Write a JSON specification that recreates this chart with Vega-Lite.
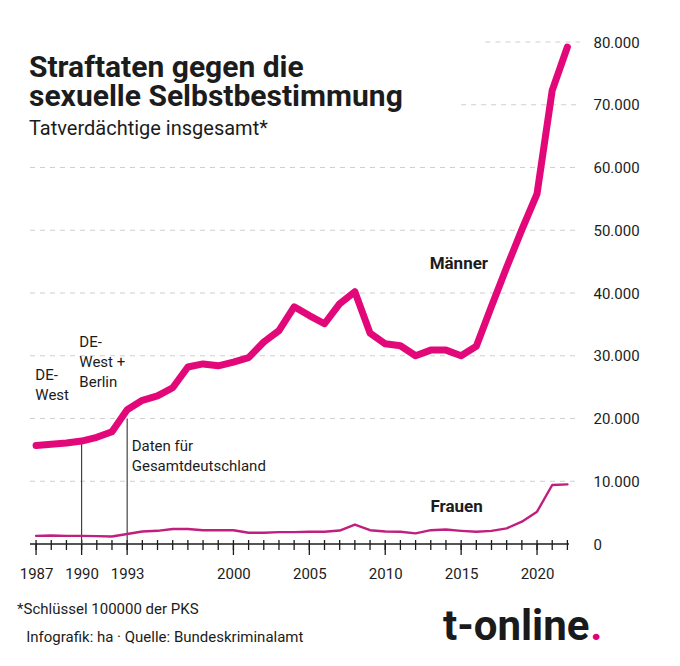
{
  "$schema": "https://vega.github.io/schema/vega-lite/v6.json",
  "width": 550,
  "height": 502,
  "autosize": "none",
  "padding": {"left": 30, "top": 42, "right": 100, "bottom": 122},
  "background": "white",
  "config": {
    "view": {"stroke": null},
    "font": "Roboto",
    "text": {"font": "Roboto", "color": "#1c1c1c"}
  },
  "title": {
    "text": ["Straftaten gegen die", "sexuelle Selbstbestimmung"],
    "subtitle": "Tatverdächtige insgesamt*",
    "anchor": "start",
    "frame": "group",
    "orient": "top",
    "offset": -104,
    "dx": -1,
    "font": "Roboto",
    "fontSize": 30,
    "fontWeight": "bold",
    "lineHeight": 29.5,
    "color": "#1c1c1c",
    "subtitleFont": "Roboto",
    "subtitleFontSize": 20,
    "subtitleColor": "#1c1c1c",
    "subtitlePadding": 7
  },
  "datasets": {
    "pks": [
      {"Jahr": 1987, "Geschlecht": "Männer", "Tatverdächtige": 15700},
      {"Jahr": 1988, "Geschlecht": "Männer", "Tatverdächtige": 15900},
      {"Jahr": 1989, "Geschlecht": "Männer", "Tatverdächtige": 16100},
      {"Jahr": 1990, "Geschlecht": "Männer", "Tatverdächtige": 16400},
      {"Jahr": 1991, "Geschlecht": "Männer", "Tatverdächtige": 17000},
      {"Jahr": 1992, "Geschlecht": "Männer", "Tatverdächtige": 17900},
      {"Jahr": 1993, "Geschlecht": "Männer", "Tatverdächtige": 21400},
      {"Jahr": 1994, "Geschlecht": "Männer", "Tatverdächtige": 22900},
      {"Jahr": 1995, "Geschlecht": "Männer", "Tatverdächtige": 23600},
      {"Jahr": 1996, "Geschlecht": "Männer", "Tatverdächtige": 24900},
      {"Jahr": 1997, "Geschlecht": "Männer", "Tatverdächtige": 28200},
      {"Jahr": 1998, "Geschlecht": "Männer", "Tatverdächtige": 28700},
      {"Jahr": 1999, "Geschlecht": "Männer", "Tatverdächtige": 28400},
      {"Jahr": 2000, "Geschlecht": "Männer", "Tatverdächtige": 29000},
      {"Jahr": 2001, "Geschlecht": "Männer", "Tatverdächtige": 29700},
      {"Jahr": 2002, "Geschlecht": "Männer", "Tatverdächtige": 32200},
      {"Jahr": 2003, "Geschlecht": "Männer", "Tatverdächtige": 34000},
      {"Jahr": 2004, "Geschlecht": "Männer", "Tatverdächtige": 37800},
      {"Jahr": 2005, "Geschlecht": "Männer", "Tatverdächtige": 36400},
      {"Jahr": 2006, "Geschlecht": "Männer", "Tatverdächtige": 35100},
      {"Jahr": 2007, "Geschlecht": "Männer", "Tatverdächtige": 38300},
      {"Jahr": 2008, "Geschlecht": "Männer", "Tatverdächtige": 40200},
      {"Jahr": 2009, "Geschlecht": "Männer", "Tatverdächtige": 33600},
      {"Jahr": 2010, "Geschlecht": "Männer", "Tatverdächtige": 31900},
      {"Jahr": 2011, "Geschlecht": "Männer", "Tatverdächtige": 31600},
      {"Jahr": 2012, "Geschlecht": "Männer", "Tatverdächtige": 30000},
      {"Jahr": 2013, "Geschlecht": "Männer", "Tatverdächtige": 30900},
      {"Jahr": 2014, "Geschlecht": "Männer", "Tatverdächtige": 30900},
      {"Jahr": 2015, "Geschlecht": "Männer", "Tatverdächtige": 30000},
      {"Jahr": 2016, "Geschlecht": "Männer", "Tatverdächtige": 31500},
      {"Jahr": 2017, "Geschlecht": "Männer", "Tatverdächtige": 37900},
      {"Jahr": 2018, "Geschlecht": "Männer", "Tatverdächtige": 44100},
      {"Jahr": 2019, "Geschlecht": "Männer", "Tatverdächtige": 50100},
      {"Jahr": 2020, "Geschlecht": "Männer", "Tatverdächtige": 55800},
      {"Jahr": 2021, "Geschlecht": "Männer", "Tatverdächtige": 72300},
      {"Jahr": 2022, "Geschlecht": "Männer", "Tatverdächtige": 79200},
      {"Jahr": 1987, "Geschlecht": "Frauen", "Tatverdächtige": 1300},
      {"Jahr": 1988, "Geschlecht": "Frauen", "Tatverdächtige": 1350},
      {"Jahr": 1989, "Geschlecht": "Frauen", "Tatverdächtige": 1300},
      {"Jahr": 1990, "Geschlecht": "Frauen", "Tatverdächtige": 1300},
      {"Jahr": 1991, "Geschlecht": "Frauen", "Tatverdächtige": 1250},
      {"Jahr": 1992, "Geschlecht": "Frauen", "Tatverdächtige": 1200},
      {"Jahr": 1993, "Geschlecht": "Frauen", "Tatverdächtige": 1600},
      {"Jahr": 1994, "Geschlecht": "Frauen", "Tatverdächtige": 2000},
      {"Jahr": 1995, "Geschlecht": "Frauen", "Tatverdächtige": 2100},
      {"Jahr": 1996, "Geschlecht": "Frauen", "Tatverdächtige": 2400},
      {"Jahr": 1997, "Geschlecht": "Frauen", "Tatverdächtige": 2400},
      {"Jahr": 1998, "Geschlecht": "Frauen", "Tatverdächtige": 2200},
      {"Jahr": 1999, "Geschlecht": "Frauen", "Tatverdächtige": 2200},
      {"Jahr": 2000, "Geschlecht": "Frauen", "Tatverdächtige": 2200},
      {"Jahr": 2001, "Geschlecht": "Frauen", "Tatverdächtige": 1800},
      {"Jahr": 2002, "Geschlecht": "Frauen", "Tatverdächtige": 1800},
      {"Jahr": 2003, "Geschlecht": "Frauen", "Tatverdächtige": 1900},
      {"Jahr": 2004, "Geschlecht": "Frauen", "Tatverdächtige": 1900},
      {"Jahr": 2005, "Geschlecht": "Frauen", "Tatverdächtige": 1950},
      {"Jahr": 2006, "Geschlecht": "Frauen", "Tatverdächtige": 1950},
      {"Jahr": 2007, "Geschlecht": "Frauen", "Tatverdächtige": 2150},
      {"Jahr": 2008, "Geschlecht": "Frauen", "Tatverdächtige": 3100},
      {"Jahr": 2009, "Geschlecht": "Frauen", "Tatverdächtige": 2200},
      {"Jahr": 2010, "Geschlecht": "Frauen", "Tatverdächtige": 2000},
      {"Jahr": 2011, "Geschlecht": "Frauen", "Tatverdächtige": 1950},
      {"Jahr": 2012, "Geschlecht": "Frauen", "Tatverdächtige": 1700},
      {"Jahr": 2013, "Geschlecht": "Frauen", "Tatverdächtige": 2200},
      {"Jahr": 2014, "Geschlecht": "Frauen", "Tatverdächtige": 2300},
      {"Jahr": 2015, "Geschlecht": "Frauen", "Tatverdächtige": 2100},
      {"Jahr": 2016, "Geschlecht": "Frauen", "Tatverdächtige": 1950},
      {"Jahr": 2017, "Geschlecht": "Frauen", "Tatverdächtige": 2100},
      {"Jahr": 2018, "Geschlecht": "Frauen", "Tatverdächtige": 2500},
      {"Jahr": 2019, "Geschlecht": "Frauen", "Tatverdächtige": 3550},
      {"Jahr": 2020, "Geschlecht": "Frauen", "Tatverdächtige": 5150},
      {"Jahr": 2021, "Geschlecht": "Frauen", "Tatverdächtige": 9400},
      {"Jahr": 2022, "Geschlecht": "Frauen", "Tatverdächtige": 9500}
    ],
    "grid": [
      {"wert": 80000, "von": 2016.6},
      {"wert": 70000, "von": 2015},
      {"wert": 60000, "von": 1986.6},
      {"wert": 50000, "von": 1986.6},
      {"wert": 40000, "von": 1986.6},
      {"wert": 30000, "von": 1986.6},
      {"wert": 20000, "von": 1986.6},
      {"wert": 10000, "von": 1986.6}
    ]
  },
  "layer": [
    {
      "data": {"name": "grid"},
      "mark": {"type": "rule", "color": "#cfcfcf", "strokeDash": [5, 5], "strokeWidth": 1},
      "encoding": {
        "x": {
          "field": "von",
          "type": "quantitative",
          "scale": {"domain": [1986.6, 2022.83], "nice": false, "zero": false},
          "axis": {
            "orient": "bottom",
            "values": [1987, 1990, 1993, 2000, 2005, 2010, 2015, 2020],
            "format": "d",
            "domain": false,
            "grid": false,
            "ticks": false,
            "title": null,
            "labelFont": "Roboto",
            "labelFontSize": 15,
            "labelColor": "#1c1c1c",
            "labelPadding": 22,
            "labelFlush": false,
            "labelOverlap": false
          }
        },
        "x2": {"datum": 2022.83},
        "y": {
          "field": "wert",
          "type": "quantitative",
          "scale": {"domain": [0, 80000], "nice": false},
          "axis": {
            "orient": "right",
            "values": [0, 10000, 20000, 30000, 40000, 50000, 60000, 70000, 80000],
            "labelExpr": "replace(format(datum.value, ','), ',', '.')",
            "grid": false,
            "domain": false,
            "ticks": false,
            "title": null,
            "labelFont": "Roboto",
            "labelFontSize": 15,
            "labelColor": "#1c1c1c",
            "labelPadding": 13
          }
        }
      }
    },
    {
      "data": {"name": "pks"},
      "transform": [{"filter": "datum.Geschlecht == 'Männer'"}],
      "mark": {"type": "rule", "color": "#1c1c1c", "strokeWidth": 1.3},
      "encoding": {
        "x": {"field": "Jahr", "type": "quantitative"},
        "y": {"datum": 640},
        "y2": {"datum": -960}
      }
    },
    {
      "data": {"name": "pks"},
      "transform": [
        {"filter": "datum.Geschlecht == 'Männer'"},
        {"filter": {"field": "Jahr", "oneOf": [1987, 1990, 1993, 2000, 2005, 2010, 2015, 2020]}}
      ],
      "mark": {"type": "rule", "color": "#1c1c1c", "strokeWidth": 1.3},
      "encoding": {
        "x": {"field": "Jahr", "type": "quantitative"},
        "y": {"datum": 0},
        "y2": {"datum": -1750}
      }
    },
    {
      "data": {"values": [{}]},
      "mark": {"type": "rule", "color": "#1c1c1c", "strokeWidth": 1.6},
      "encoding": {
        "x": {"datum": 1986.6},
        "x2": {"datum": 2022.1},
        "y": {"datum": 0}
      }
    },
    {
      "data": {"values": [{"jahr": 1990, "oben": 16400}, {"jahr": 1993, "oben": 20000}]},
      "mark": {"type": "rule", "color": "#333333", "strokeWidth": 1.1},
      "encoding": {
        "x": {"field": "jahr", "type": "quantitative"},
        "y": {"field": "oben", "type": "quantitative"},
        "y2": {"datum": 0}
      }
    },
    {
      "data": {"name": "pks"},
      "mark": {"type": "line", "strokeCap": "round", "strokeJoin": "round"},
      "encoding": {
        "x": {"field": "Jahr", "type": "quantitative"},
        "y": {"field": "Tatverdächtige", "type": "quantitative"},
        "detail": {"field": "Geschlecht"},
        "color": {"field": "Geschlecht", "type": "nominal", "scale": {"domain": ["Männer", "Frauen"], "range": ["#e2087a", "#c01f7e"]}, "legend": null},
        "strokeWidth": {"field": "Geschlecht", "type": "nominal", "scale": {"domain": ["Männer", "Frauen"], "range": [7, 2.4]}, "legend": null}
      }
    },
    {
      "data": {"values": [{}]},
      "mark": {"type": "text", "align": "left", "baseline": "alphabetic", "fontSize": 15, "lineHeight": 20},
      "encoding": {"x": {"datum": 1986.95}, "y": {"datum": 26100}, "text": {"value": ["DE-", "West"]}}
    },
    {
      "data": {"values": [{}]},
      "mark": {"type": "text", "align": "left", "baseline": "alphabetic", "fontSize": 15, "lineHeight": 20},
      "encoding": {"x": {"datum": 1989.85}, "y": {"datum": 31400}, "text": {"value": ["DE-", "West +", "Berlin"]}}
    },
    {
      "data": {"values": [{}]},
      "mark": {"type": "text", "align": "left", "baseline": "alphabetic", "fontSize": 15, "lineHeight": 20},
      "encoding": {"x": {"datum": 1993.3}, "y": {"datum": 14870}, "text": {"value": ["Daten für", "Gesamtdeutschland"]}}
    },
    {
      "data": {"values": [{}]},
      "mark": {"type": "text", "align": "center", "baseline": "alphabetic", "fontSize": 17, "fontWeight": "bold"},
      "encoding": {"x": {"datum": 2014.85}, "y": {"datum": 43900}, "text": {"value": "Männer"}}
    },
    {
      "data": {"values": [{}]},
      "mark": {"type": "text", "align": "center", "baseline": "alphabetic", "fontSize": 17, "fontWeight": "bold"},
      "encoding": {"x": {"datum": 2014.7}, "y": {"datum": 5150}, "text": {"value": "Frauen"}}
    },
    {
      "data": {"values": [{}]},
      "mark": {"type": "text", "align": "left", "baseline": "alphabetic", "fontSize": 15},
      "encoding": {"x": {"datum": 1985.75}, "y": {"datum": -11150}, "text": {"value": "*Schlüssel 100000 der PKS"}}
    },
    {
      "data": {"values": [{}]},
      "mark": {"type": "text", "align": "left", "baseline": "alphabetic", "fontSize": 15},
      "encoding": {"x": {"datum": 1986.35}, "y": {"datum": -15600}, "text": {"value": "Infografik: ha  ·  Quelle: Bundeskriminalamt"}}
    },
    {
      "data": {"values": [{}]},
      "mark": {"type": "text", "align": "right", "baseline": "alphabetic", "fontSize": 42, "fontWeight": "bold", "color": "#1a1a1a"},
      "encoding": {"x": {"datum": 2023.45}, "y": {"datum": -15300}, "text": {"value": "t-online"}}
    },
    {
      "data": {"values": [{}]},
      "mark": {"type": "text", "align": "left", "baseline": "alphabetic", "fontSize": 42, "fontWeight": "bold", "color": "#e2007a"},
      "encoding": {"x": {"datum": 2023.5}, "y": {"datum": -15300}, "text": {"value": "."}}
    }
  ]
}
